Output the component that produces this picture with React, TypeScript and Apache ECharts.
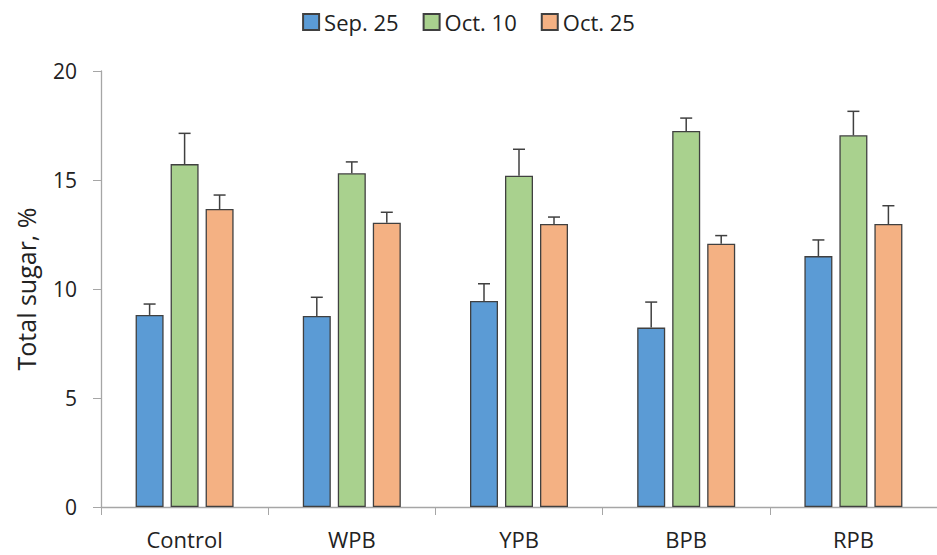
import React, { useEffect, useRef } from "react";
import * as echarts from "echarts";

const categories = ["Control", "WPB", "YPB", "BPB", "RPB"];
const seriesNames = ["Sep. 25", "Oct. 10", "Oct. 25"];
const sep25 = [8.81, 8.76, 9.45, 8.23, 11.51];
const sep25Err = [0.5, 0.86, 0.79, 1.17, 0.74];
const oct10 = [15.73, 15.31, 15.2, 17.25, 17.05];
const oct10Err = [1.41, 0.52, 1.21, 0.59, 1.1];
const oct25 = [13.67, 13.04, 12.98, 12.08, 12.98];
const oct25Err = [0.64, 0.48, 0.32, 0.37, 0.84];
const colors = ["#5B9BD5", "#A9D18E", "#F4B183"];

const FONT = "Open Sans";
const BAR_W = 28;
const BAR_GAP_PX = 7;

export default function App() {
  const ref = useRef<HTMLDivElement>(null);
  useEffect(() => {
    if (!ref.current) return;
    const chart = echarts.init(ref.current, undefined, { renderer: "svg" });
    const values = [sep25, oct10, oct25];
    const errs = [sep25Err, oct10Err, oct25Err];
    const barSeries = values.map((v, i) => ({
      name: seriesNames[i],
      type: "bar",
      data: v,
      barWidth: BAR_W,
      barGap: (BAR_GAP_PX / BAR_W) * 100 + "%",
      itemStyle: { color: colors[i], borderColor: "#404040", borderWidth: 1.3 },
    }));
    const errSeries = values.map((v, i) => ({
      name: seriesNames[i] + " err",
      type: "custom",
      z: 10,
      data: v.map((val, k) => [k, val, val + errs[i][k]]),
      encode: { x: 0, y: [1, 2] },
      renderItem: (params: any, api: any) => {
        const idx = api.value(0);
        const offset = (i - 1) * (BAR_W + BAR_GAP_PX);
        const p0 = api.coord([idx, api.value(1)]);
        const p1 = api.coord([idx, api.value(2)]);
        const x = p0[0] + offset;
        const style = { stroke: "#404040", lineWidth: 1.5 };
        return {
          type: "group",
          children: [
            { type: "line", shape: { x1: x, y1: p0[1], x2: x, y2: p1[1] }, style },
            { type: "line", shape: { x1: x - 6, y1: p1[1], x2: x + 6, y2: p1[1] }, style },
          ],
        };
      },
    }));
    chart.setOption({
      animation: false,
      textStyle: { fontFamily: FONT },
      legend: {
        data: seriesNames.map((n) => ({ name: n, icon: "rect" })),
        top: 6,
        left: "center",
        itemWidth: 16,
        itemHeight: 16,
        itemGap: 24,
        textStyle: { fontFamily: FONT, fontSize: 22, color: "#222", padding: [0, 0, 0, 0] },
      },
      grid: { left: 101, right: -5, top: 71, bottom: 48, containLabel: false },
      xAxis: {
        type: "category",
        data: categories,
        axisLine: { lineStyle: { color: "#a6a6a6", width: 1.3 } },
        axisTick: { show: true, length: 8, lineStyle: { color: "#a6a6a6" } },
        axisLabel: { fontFamily: FONT, fontSize: 22, color: "#222", margin: 21 },
      },
      yAxis: {
        type: "value",
        min: 0,
        max: 20,
        interval: 5,
        name: "Total sugar, %",
        nameLocation: "middle",
        nameGap: 63,
        nameRotate: 90,
        nameTextStyle: { fontFamily: FONT, fontSize: 25, color: "#222" },
        axisLine: { show: true, lineStyle: { color: "#a6a6a6", width: 1.3 } },
        axisTick: { show: true, length: 8, lineStyle: { color: "#a6a6a6" } },
        splitLine: { show: false },
        axisLabel: { fontFamily: FONT, fontSize: 21, color: "#222", margin: 24 },
      },
      series: [...barSeries, ...errSeries],
    });
    return () => chart.dispose();
  }, []);
  return <div ref={ref} style={{ width: 937, height: 555, position: "absolute", left: 0, top: 0 }} />;
}
